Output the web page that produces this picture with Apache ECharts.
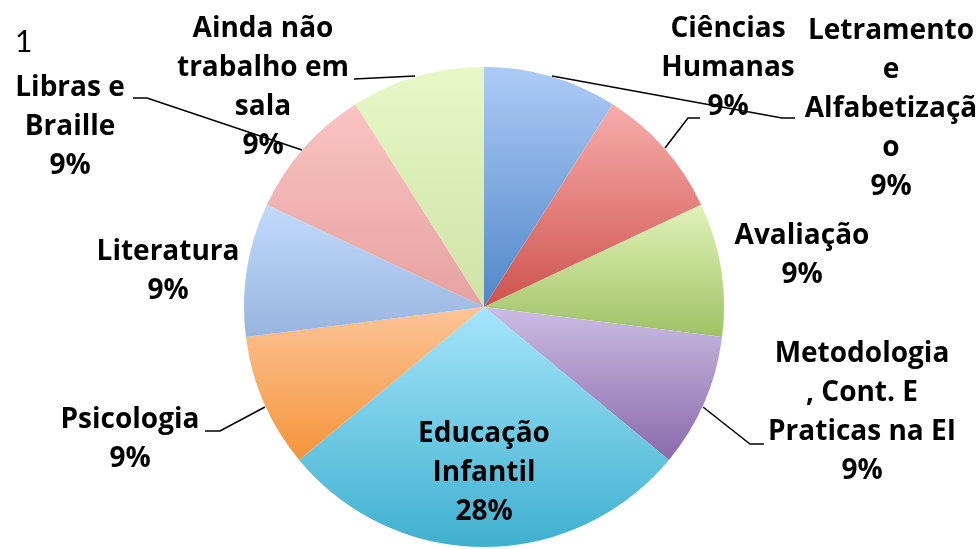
<!DOCTYPE html>
<html>
<head>
<meta charset="utf-8">
<script src="https://cdn.jsdelivr.net/npm/echarts@6/dist/echarts.min.js"></script>
<style>
  html, body { margin: 0; padding: 0; background: #fff; }
  #chart { width: 977px; height: 549px; }
</style>
</head>
<body>
<div id="chart"></div>
<script>
// dados do gráfico
const categorias = [
  'Ciências\nHumanas',
  'Letramento\ne\nAlfabetizaçã\no',
  'Avaliação',
  'Metodologia\n, Cont. E\nPraticas na EI',
  'Educação\nInfantil',
  'Psicologia',
  'Literatura',
  'Libras e\nBraille',
  'Ainda não\ntrabalho em\nsala'
];
const valores = [9, 9, 9, 9, 28, 9, 9, 9, 9];

// cores em degradê (topo -> base)
const coresTopo = ['#aecbf6', '#f7adab', '#dff2b8', '#cbbde3', '#a5e5fb', '#fcc497', '#c2dafb', '#fac4c2', '#e6f8c6'];
const coresBase = ['#4f87c8', '#cf534f', '#a0c265', '#8a6aab', '#3fb0cf', '#f5953a', '#98b5e0', '#e5a2a0', '#cfe2a6'];

// posição dos rótulos (centro do bloco) e linhas de chamada
const rotulos = [
  {x: 728, y: 68, linha: [[552, 76], [782, 118], [795, 118]]},
  {x: 891, y: 109, linha: [[665, 148], [688, 118], [700, 118]]},
  {x: 802, y: 256, linha: null},
  {x: 862, y: 413, linha: [[703, 407], [750, 444], [764, 444]]},
  {x: 484, y: 473, linha: null},
  {x: 130, y: 440, linha: [[265, 407], [220, 431], [205, 431]]},
  {x: 168, y: 272, linha: null},
  {x: 70, y: 127, linha: [[302, 150], [147, 98], [133, 98]]},
  {x: 263, y: 88, linha: [[415, 76], [354, 79], [354, 79]]}
];

const chart = echarts.init(document.getElementById('chart'));

const dados = valores.map((v, i) => ({
  name: categorias[i],
  value: v,
  itemStyle: {
    color: new echarts.graphic.LinearGradient(0, 0, 0, 1, [
      {offset: 0, color: coresTopo[i]},
      {offset: 1, color: coresBase[i]}
    ])
  },
  labelLine: {show: rotulos[i].linha !== null}
}));

chart.setOption({
  backgroundColor: '#fff',
  animation: false,
  title: {
    text: '1',
    left: 10,
    top: 22,
    textStyle: {fontFamily: 'Lato', fontWeight: 'normal', fontSize: 30, color: '#000'}
  },
  series: [{
    type: 'pie',
    center: [484, 307],
    radius: 240,
    startAngle: 90,
    clockwise: true,
    data: dados,
    itemStyle: {borderWidth: 0},
    label: {
      show: true,
      position: 'outside',
      formatter: p => p.name + '\n' + Math.round(p.percent) + '%',
      fontFamily: 'Open Sans',
      fontWeight: 'bold',
      fontSize: 28,
      lineHeight: 39,
      color: '#000',
      align: 'center'
    },
    labelLine: {
      show: true,
      lineStyle: {color: '#000', width: 1.5}
    },
    labelLayout: p => {
      const r = rotulos[p.dataIndex];
      const out = {x: r.x, y: r.y, align: 'center', verticalAlign: 'middle'};
      if (r.linha) out.labelLinePoints = r.linha;
      return out;
    }
  }]
});
</script>
</body>
</html>
